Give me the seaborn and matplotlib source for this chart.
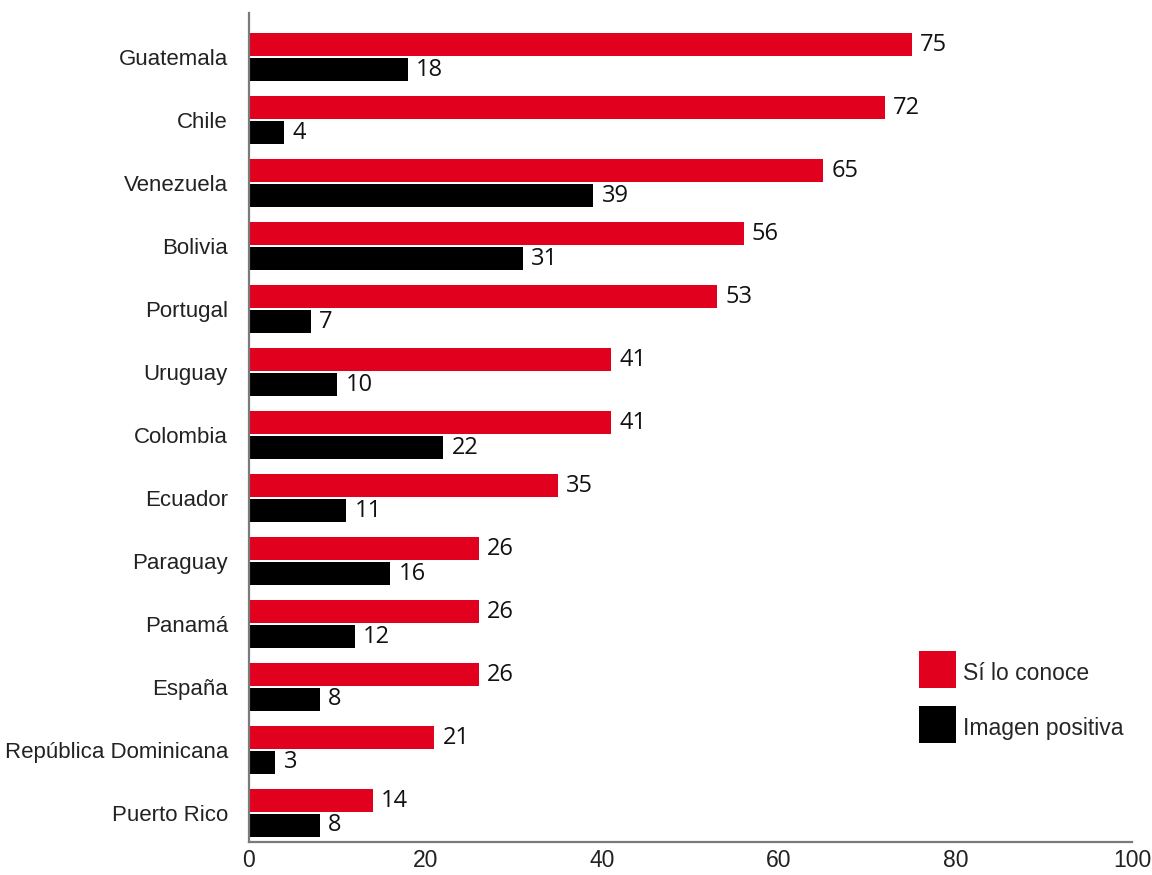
import matplotlib
matplotlib.use("Agg")
import matplotlib.pyplot as plt
import seaborn as sns
import pandas as pd

# --- data ---
paises = ["Guatemala", "Chile", "Venezuela", "Bolivia", "Portugal", "Uruguay",
          "Colombia", "Ecuador", "Paraguay", "Panamá", "España",
          "República Dominicana", "Puerto Rico"]
lo_conoce = [75, 72, 65, 56, 53, 41, 41, 35, 26, 26, 26, 21, 14]
imagen_positiva = [18, 4, 39, 31, 7, 10, 22, 11, 16, 12, 8, 3, 8]
series = ["Sí lo conoce", "Imagen positiva"]
x_ticks = [0, 20, 40, 60, 80, 100]

RED = "#E2001F"
BLACK = "#000000"
AXIS_GREY = "#7a7a7a"
TEXT = "#222222"

df = pd.DataFrame({
    "pais": paises * 2,
    "valor": lo_conoce + imagen_positiva,
    "serie": [series[0]] * len(paises) + [series[1]] * len(paises),
})

sns.set_style("white")
plt.rcParams["font.family"] = ["Liberation Sans", "DejaVu Sans"]

fig = plt.figure(figsize=(11.52, 8.75), dpi=100)
# axes box: x 249..1132 px, y 13..842 px
ax = fig.add_axes([0.216, 0.0377, 0.767, 0.9474])

sns.barplot(data=df, x="valor", y="pais", hue="serie", orient="h",
            palette=[RED, BLACK], width=0.79, gap=0.08, ax=ax,
            saturation=1, linewidth=0, legend=True)

# value labels
for cont in ax.containers:
    ax.bar_label(cont, fmt="%d", padding=6, fontsize=17,
                 family=["Open Sans", "DejaVu Sans"], color="#111111")

ax.set_xlim(0, 100)
ax.set_ylim(len(paises) - 1 + 0.46, -0.70)
ax.set_xticks(x_ticks)
ax.set_xlabel("")
ax.set_ylabel("")

for s in ["top", "right"]:
    ax.spines[s].set_visible(False)
for s in ["left", "bottom"]:
    ax.spines[s].set_color(AXIS_GREY)
    ax.spines[s].set_linewidth(1.6)

ax.tick_params(axis="x", direction="in", length=15, width=1, color=TEXT,
               labelsize=16.5, pad=5, labelcolor=TEXT)
ax.tick_params(axis="y", length=0, labelsize=16, pad=15, labelcolor=TEXT)

# legend with square ~37px swatches
ax.legend(loc="upper left", bbox_to_anchor=(0.758, 0.222), frameon=False,
          fontsize=16.5, handlelength=1.62, handleheight=1.62,
          labelspacing=1.1, handletextpad=0.3, borderpad=0, borderaxespad=0)
for h in ax.get_legend().legend_handles:
    h.set_height(37 * 72 / 100)
    h.set_width(37 * 72 / 100)

fig.savefig("out.png", dpi=100)
